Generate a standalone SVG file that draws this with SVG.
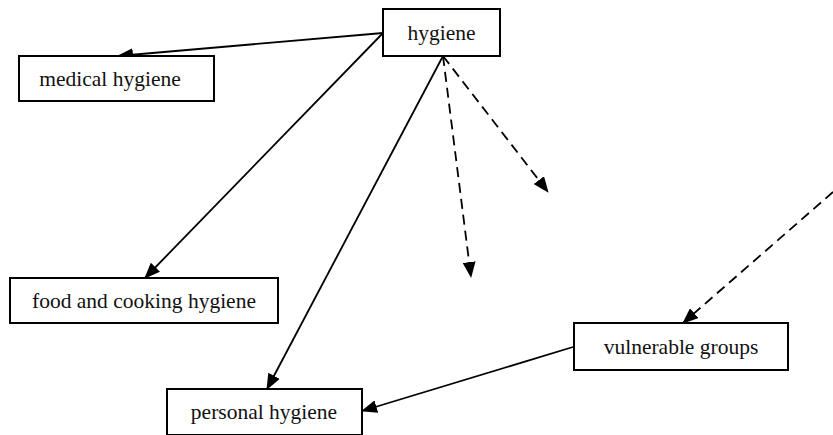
<svg xmlns="http://www.w3.org/2000/svg" width="833" height="435" viewBox="0 0 833 435">
<style>
.box{fill:#fff;stroke:#000;stroke-width:2}
.lbl{font-family:"Liberation Serif","Times New Roman",serif;font-size:21.5px;fill:#111;text-anchor:middle;dominant-baseline:central}
.edge{fill:none;stroke:#000;stroke-width:1.8}
.dash{stroke-dasharray:10,6}
</style>
<defs>
<marker id="ah" markerUnits="userSpaceOnUse" markerWidth="16" markerHeight="13" refX="15" refY="6.5" orient="auto">
<path d="M0,0 L16,6.5 L0,13 z" fill="#000"/>
</marker>
</defs>
<rect width="833" height="435" fill="#fff"/>
<g id="connectors">
<line class="edge" x1="383" y1="33" x2="118" y2="56" marker-end="url(#ah)"/>
<line class="edge" x1="383" y1="33" x2="145" y2="278" marker-end="url(#ah)"/>
<line class="edge" x1="443" y1="56" x2="267" y2="389" marker-end="url(#ah)"/>
<line class="edge dash" x1="443" y1="56" x2="471" y2="277" marker-end="url(#ah)"/>
<line class="edge dash" x1="443" y1="56" x2="548" y2="192" marker-end="url(#ah)"/>
<line class="edge dash" x1="833" y1="192" x2="683" y2="323" marker-end="url(#ah)"/>
<line class="edge" x1="573" y1="347" x2="362" y2="411" marker-end="url(#ah)"/>
</g>
<g id="hygiene"><rect class="box" x="383" y="9" width="117" height="47"/><text class="lbl" x="441.5" y="32.5">hygiene</text></g>
<g id="medical"><rect class="box" x="19" y="56" width="195" height="45"/><text class="lbl" x="110" y="78.5">medical hygiene</text></g>
<g id="food"><rect class="box" x="10" y="278" width="268" height="45"/><text class="lbl" x="144" y="300.5">food and cooking hygiene</text></g>
<g id="vulnerable"><rect class="box" x="574" y="323" width="214" height="47"/><text class="lbl" x="681" y="346.5">vulnerable groups</text></g>
<g id="personal"><rect class="box" x="167" y="389" width="195" height="46"/><text class="lbl" x="264" y="412">personal hygiene</text></g>
</svg>
